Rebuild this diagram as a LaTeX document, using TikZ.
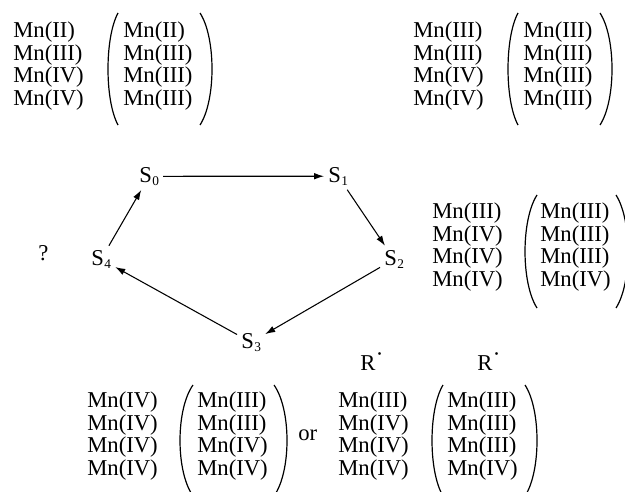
\documentclass[tikz,border=0pt]{standalone}
\usepackage{fontspec}
\setmainfont{Liberation Serif}
\usetikzlibrary{arrows.meta}

% one column of oxidation states, baseline of the box = first row
\newcommand\mncol[1]{\begin{tabular}[t]{@{}l@{}}#1\end{tabular}}
% S-state label with lowered small index
\newcommand\sstate[1]{S\kern0.3pt\raisebox{-2.6pt}{\fontsize{10}{10}\selectfont #1}}
% radical mark
\newcommand\rdot{R\kern0.4pt\raisebox{0.36em}{·}}
% tall round bracket: end x, middle x, top y, bottom y
\newcommand\mnparen[4]{%
  \draw[parenline] (#1,#3) .. controls ({(#2-0.25*#1)/0.75},{#3+(#4-#3)*0.22})
    and ({(#2-0.25*#1)/0.75},{#4-(#4-#3)*0.22}) .. (#1,#4);}

\begin{document}
\begin{tikzpicture}[x=0.75pt,y=-0.75pt,
  font=\fontsize{17}{17}\selectfont,
  col/.style={anchor=base west,inner sep=0pt},
  state/.style={anchor=base west,inner sep=3pt},
  parenline/.style={line width=0.9pt},
  cyc/.style={line width=0.8pt,-{Latex[length=7.5pt,width=5pt]}}]
\useasboundingbox (0,0) rectangle (625,492);

% ---- S2 configuration (top left)
\node[col] (a-l) at (13,37.5) {\mncol{Mn(II)\\Mn(III)\\Mn(IV)\\Mn(IV)}};
\node[col] (a-r) at (123,37.5) {\mncol{Mn(II)\\Mn(III)\\Mn(III)\\Mn(III)}};
\mnparen{118}{108}{13}{125}
\mnparen{200}{212}{13}{125}

% ---- top right
\node[col] (b-l) at (413,37.5) {\mncol{Mn(III)\\Mn(III)\\Mn(IV)\\Mn(IV)}};
\node[col] (b-r) at (523,37.5) {\mncol{Mn(III)\\Mn(III)\\Mn(III)\\Mn(III)}};
\mnparen{518}{508}{13}{125}
\mnparen{600}{612}{13}{125}

% ---- middle right
\node[col] (c-l) at (432,218.5) {\mncol{Mn(III)\\Mn(IV)\\Mn(IV)\\Mn(IV)}};
\node[col] (c-r) at (540,218.5) {\mncol{Mn(III)\\Mn(III)\\Mn(III)\\Mn(IV)}};
\mnparen{537}{525}{195}{308}
\mnparen{616}{628}{195}{308}

% ---- bottom left
\node[col] (d-l) at (87,407.5) {\mncol{Mn(IV)\\Mn(IV)\\Mn(IV)\\Mn(IV)}};
\node[col] (d-r) at (197,407.5) {\mncol{Mn(III)\\Mn(III)\\Mn(IV)\\Mn(IV)}};
\mnparen{193}{180}{385}{496}
\mnparen{274}{287}{385}{496}

\node[col] (or) at (298,440) {or};

% ---- bottom right, with radicals
\node[col] (e-rad1) at (360,370) {\rdot};
\node[col] (e-rad2) at (477,370) {\rdot};
\node[col] (e-l) at (338,407.5) {\mncol{Mn(III)\\Mn(IV)\\Mn(IV)\\Mn(IV)}};
\node[col] (e-r) at (447,407.5) {\mncol{Mn(III)\\Mn(III)\\Mn(III)\\Mn(IV)}};
\mnparen{443}{432}{385}{496}
\mnparen{525}{537}{385}{496}

% ---- Kok cycle
\node[state] (s0) at (135,182) {\sstate{0}};
\node[state] (s1) at (324,182) {\sstate{1}};
\node[state] (s2) at (380,265) {\sstate{2}};
\node[state] (s3) at (237,348) {\sstate{3}};
\node[state] (s4) at (87,265) {\sstate{4}};
\node[col] (q) at (38,260) {?};

\draw[cyc] (s0) -- (s1);
\draw[cyc] (s1) -- (s2);
\draw[cyc] (s2) -- (s3);
\draw[cyc] (s3) -- (s4);
\draw[cyc] (s4) -- (s0);
\end{tikzpicture}
\end{document}
